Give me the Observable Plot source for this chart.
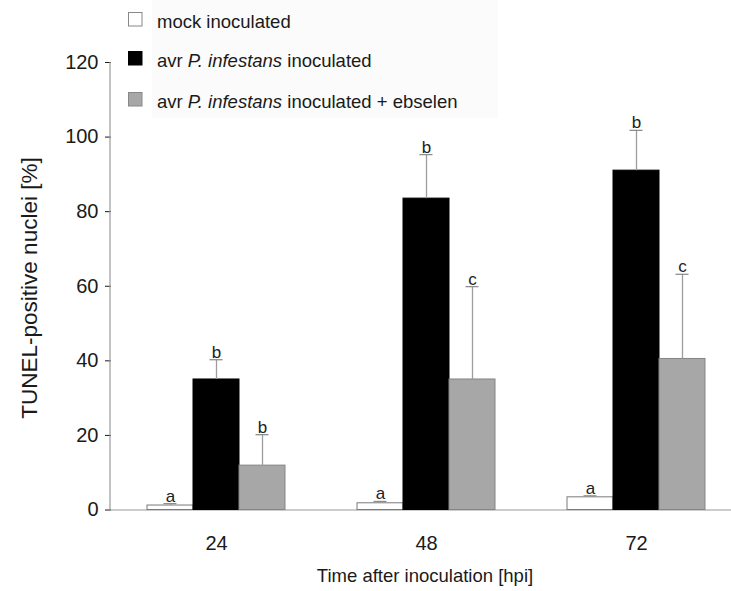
<!DOCTYPE html>
<html>
<head>
<meta charset="utf-8">
<script src="https://cdn.jsdelivr.net/npm/d3@7"></script>
<script src="https://cdn.jsdelivr.net/npm/@observablehq/plot@0.6"></script>
<style>
  html, body { margin: 0; padding: 0; background: #fff; }
  #chart { width: 731px; height: 591px; }
  #chart g[aria-label="y-axis tick label"] text,
  #chart g[aria-label="fx-axis tick label"] text { font-size: 20px; }
  #chart g[aria-label="y-axis tick label"],
  #chart g[aria-label="fx-axis tick label"] { font-size: 20px; }
</style>
</head>
<body>
<div id="chart"></div>
<script>
// Time points (hours post inoculation)
const times = ["24", "48", "72"];

// Treatments
const seriesKeys = ["mock", "avr", "ebselen"];
const seriesLabels = [
  ["mock inoculated"],
  ["avr ", "P. infestans", " inoculated"],
  ["avr ", "P. infestans", " inoculated + ebselen"]
];

// Mean TUNEL-positive nuclei [%] per time point
const mockMean = [1.2, 1.8, 3.4];
const avrMean = [35.0, 83.5, 91.0];
const ebselenMean = [11.9, 35.0, 40.5];

// Upper end of the error bars
const mockUpper = [1.7, 2.3, 3.8];
const avrUpper = [40.3, 95.3, 101.8];
const ebselenUpper = [20.2, 59.9, 63.2];

// Significance letters
const mockLetters = ["a", "a", "a"];
const avrLetters = ["b", "b", "b"];
const ebselenLetters = ["b", "c", "c"];

const yTicks = [0, 20, 40, 60, 80, 100, 120];

const means = {mock: mockMean, avr: avrMean, ebselen: ebselenMean};
const uppers = {mock: mockUpper, avr: avrUpper, ebselen: ebselenUpper};
const letters = {mock: mockLetters, avr: avrLetters, ebselen: ebselenLetters};

const rows = [];
times.forEach((t, i) => {
  seriesKeys.forEach(s => {
    rows.push({time: t, series: s, value: means[s][i], upper: uppers[s][i], letter: letters[s][i]});
  });
});

const fills = {mock: "#ffffff", avr: "#000000", ebselen: "#a7a7a7"};
const strokes = {mock: "#7a7a7a", avr: "#000000", ebselen: "#858585"};

const font = "'Liberation Sans', Arial, Helvetica, sans-serif";

const chart = Plot.plot({
  width: 731,
  height: 591,
  marginLeft: 110,
  marginRight: 0,
  marginTop: 62,
  marginBottom: 81.5,
  style: {fontFamily: font, fontSize: "20px", color: "#1a1a1a", background: "#fff", overflow: "hidden"},
  fx: {domain: times, range: [110, 741.5], padding: 0, axis: "bottom", label: null, tickSize: 0, tickPadding: 26},
  x: {domain: seriesKeys, axis: null, paddingInner: 0, paddingOuter: 0.765},
  y: {domain: [0, 120], ticks: yTicks, tickSize: 6, tickPadding: 7, label: null},
  marks: [
    Plot.ruleY([0], {stroke: "#9a9a9a", strokeWidth: 1.2}),
    Plot.barY(rows, {
      fx: "time", x: "series", y: "value",
      fill: d => fills[d.series], stroke: d => strokes[d.series], strokeWidth: 1
    }),
    Plot.ruleX(rows, {fx: "time", x: "series", y1: "value", y2: "upper", stroke: "#9d9d9d", strokeWidth: 1.3}),
    Plot.tickY(rows, {fx: "time", x: "series", y: "upper", stroke: "#8e8e8e", strokeWidth: 1.3, insetLeft: 16.5, insetRight: 16.5}),
    Plot.text(rows, {
      fx: "time", x: "series", y: "upper", text: "letter",
      lineAnchor: "bottom", dy: -2, fontSize: 17, fill: "#222"
    })
  ]
});

document.getElementById("chart").appendChild(chart);

// Axis line, titles and legend
const svg = d3.select(chart);
svg.append("line")
  .attr("x1", 110).attr("x2", 110)
  .attr("y1", 62).attr("y2", 509.5)
  .attr("stroke", "#9a9a9a").attr("stroke-width", 1.2);

svg.append("text")
  .attr("transform", "translate(37,288) rotate(-90)")
  .attr("text-anchor", "middle")
  .attr("font-family", font)
  .attr("font-size", 22.5)
  .attr("fill", "#1a1a1a")
  .text("TUNEL-positive nuclei [%]");

svg.append("text")
  .attr("x", 425).attr("y", 582)
  .attr("text-anchor", "middle")
  .attr("font-family", font)
  .attr("font-size", 18.5)
  .attr("fill", "#1a1a1a")
  .text("Time after inoculation [hpi]");

const legend = svg.append("g").attr("text-anchor", "start");
legend.append("rect")
  .attr("x", 152).attr("y", 0).attr("width", 346).attr("height", 118)
  .attr("fill", "#fbfbfb");

const legendBaselines = [28, 67, 108];
seriesKeys.forEach((s, i) => {
  const yb = legendBaselines[i];
  legend.append("rect")
    .attr("x", 128.5).attr("y", yb - 15.5).attr("width", 13.5).attr("height", 13.5)
    .attr("fill", fills[s]).attr("stroke", s === "avr" ? "#000" : "#888").attr("stroke-width", 1);
  const t = legend.append("text")
    .attr("x", 157).attr("y", yb)
    .attr("text-anchor", "start")
    .attr("font-family", font).attr("font-size", 18.5).attr("fill", "#1a1a1a");
  seriesLabels[i].forEach((part, j) => {
    t.append("tspan").attr("font-style", j === 1 ? "italic" : "normal").text(part);
  });
});
</script>
</body>
</html>
